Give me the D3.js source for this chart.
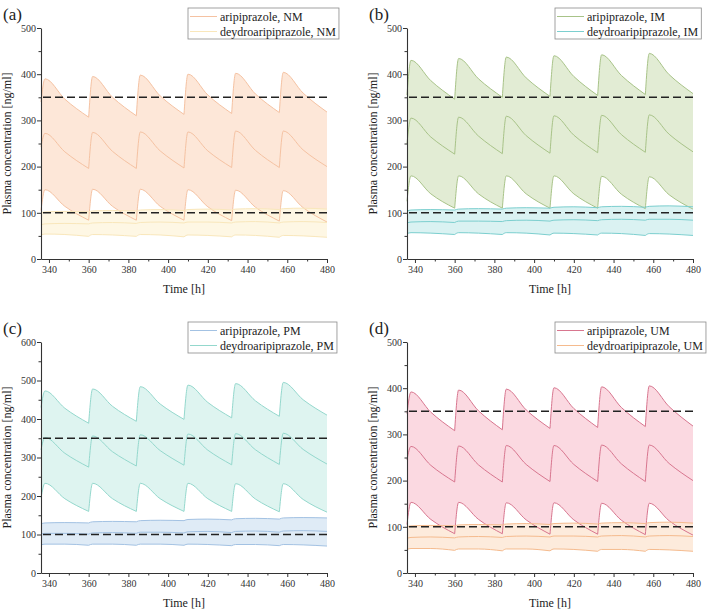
<!DOCTYPE html>
<html>
<head>
<meta charset="utf-8">
<script src="https://cdn.jsdelivr.net/npm/d3@7"></script>
<style>
  body { margin: 0; background: #fff; }
  svg, svg text { font-family: "Liberation Serif", "Times New Roman", "DejaVu Serif", serif !important; }
</style>
</head>
<body>
<svg id="chart" width="710" height="614"></svg>
<script>
// time grid: dose time, peak (+2 h), mid (+12 h) for each 24 h cycle, then the end
var sampleTimes = [336, 338, 348, 360, 362, 372, 384, 386, 396, 408, 410, 420, 432, 434, 444, 456, 458, 468, 480];
var xTicks = [340, 360, 380, 400, 420, 440, 460, 480];
var xMinor = [350, 370, 390, 410, 430, 450, 470];
var targetRange = [100, 350];

// (a) NM
var nmAriUpper  = [340, 390, 346, 307, 395, 350, 310, 398, 353, 313, 400, 355, 315, 402, 357, 317, 404, 359, 318];
var nmAriMedian = [243, 272, 232, 196, 274, 233, 196, 275, 234, 197, 275, 234, 198, 277, 235, 198, 277, 236, 200];
var nmAriLower  = [105, 150, 114, 84, 151, 114, 84, 151, 114, 84, 150, 113, 83, 149, 112, 82, 148, 111, 80];
var nmDehUpper  = [100, 102, 103, 102, 104, 105, 104, 106, 107, 105, 107, 108, 106, 108, 109, 107, 109, 110, 108];
var nmDehMedian = [74, 76, 77, 76, 78, 79, 77, 79, 80, 78, 80, 80, 78, 80, 81, 78, 80, 81, 79];
var nmDehLower  = [52, 54, 53, 49, 53, 52, 49, 53, 52, 48, 52, 51, 48, 52, 51, 47, 51, 50, 47];

// (b) IM
var imAriUpper  = [355, 430, 386, 346, 434, 390, 350, 437, 392, 352, 440, 395, 354, 442, 397, 356, 445, 399, 358];
var imAriMedian = [250, 305, 264, 227, 307, 266, 228, 309, 267, 229, 310, 268, 230, 311, 269, 231, 312, 270, 232];
var imAriLower  = [125, 180, 141, 110, 180, 141, 110, 180, 141, 110, 180, 141, 110, 179, 140, 109, 178, 139, 108];
var imDehUpper  = [104, 106, 107, 106, 108, 109, 108, 110, 111, 110, 112, 113, 111, 113, 114, 112, 114, 115, 113];
var imDehMedian = [78, 80, 81, 79, 82, 82, 81, 83, 84, 82, 84, 85, 83, 85, 86, 84, 86, 86, 84];
var imDehLower  = [55, 57, 56, 53, 57, 56, 53, 57, 56, 52, 56, 55, 52, 56, 55, 51, 55, 54, 51];

// (c) PM
var pmAriUpper  = [128, 130, 131, 130, 133, 134, 133, 136, 137, 136, 139, 140, 138, 141, 142, 140, 143, 144, 143];
var pmAriMedian = [101, 103, 103, 101, 104, 105, 103, 106, 106, 104, 107, 108, 105, 108, 109, 106, 109, 110, 108];
var pmAriLower  = [73, 75, 75, 72, 75, 75, 72, 75, 75, 72, 75, 74, 71, 74, 74, 71, 74, 73, 70];
var pmDehUpper  = [430, 473, 428, 389, 478, 433, 394, 484, 439, 399, 488, 443, 403, 492, 447, 407, 495, 450, 410];
var pmDehMedian = [320, 352, 311, 275, 356, 315, 278, 359, 318, 280, 361, 319, 281, 362, 320, 282, 363, 321, 283];
var pmDehLower  = [195, 233, 193, 160, 233, 193, 160, 233, 193, 160, 233, 193, 160, 232, 192, 159, 232, 191, 158];

// (d) UM
var umAriUpper  = [345, 392, 348, 308, 396, 351, 310, 398, 353, 313, 401, 356, 315, 403, 358, 317, 405, 360, 318];
var umAriMedian = [245, 274, 233, 197, 275, 234, 197, 276, 235, 198, 276, 235, 198, 277, 236, 198, 277, 237, 200];
var umAriLower  = [105, 153, 116, 85, 153, 116, 85, 152, 115, 84, 152, 115, 84, 151, 114, 83, 151, 113, 82];
var umDehUpper  = [100, 102, 103, 102, 104, 105, 104, 106, 107, 105, 107, 108, 106, 108, 109, 107, 109, 110, 108];
var umDehMedian = [75, 77, 78, 76, 78, 79, 77, 79, 80, 78, 80, 80, 78, 80, 81, 78, 80, 81, 79];
var umDehLower  = [51, 53, 53, 49, 52, 52, 48, 52, 52, 48, 52, 51, 47, 51, 51, 47, 51, 50, 47];

var panels = [
  { tag: "(a)", left: 41, right: 327, top: 28, bottom: 259, yMax: 500, lx: 188, ly: 8,
    series: [
      { name: "aripiprazole, NM", up: nmAriUpper, mid: nmAriMedian, lo: nmAriLower, line: "#f5c2a2", fill: "#fde3d1" },
      { name: "deydroaripiprazole, NM", up: nmDehUpper, mid: nmDehMedian, lo: nmDehLower, line: "#f9e7bb", fill: "#fef6df" }
    ] },
  { tag: "(b)", left: 407, right: 693, top: 28, bottom: 259, yMax: 500, lx: 555, ly: 8,
    series: [
      { name: "aripiprazole, IM", up: imAriUpper, mid: imAriMedian, lo: imAriLower, line: "#a8c388", fill: "#dde9cd" },
      { name: "deydroaripiprazole, IM", up: imDehUpper, mid: imDehMedian, lo: imDehLower, line: "#7ccfcf", fill: "#d3f0f0" }
    ] },
  { tag: "(c)", left: 41, right: 327, top: 342, bottom: 573, yMax: 600, lx: 188, ly: 322,
    series: [
      { name: "aripiprazole, PM", up: pmAriUpper, mid: pmAriMedian, lo: pmAriLower, line: "#a3c2e3", fill: "#d9e7f5" },
      { name: "deydroaripiprazole, PM", up: pmDehUpper, mid: pmDehMedian, lo: pmDehLower, line: "#94d8cd", fill: "#d8f2ed" }
    ] },
  { tag: "(d)", left: 407, right: 693, top: 342, bottom: 573, yMax: 500, lx: 555, ly: 322,
    series: [
      { name: "aripiprazole, UM", up: umAriUpper, mid: umAriMedian, lo: umAriLower, line: "#d8768f", fill: "#fad2dc" },
      { name: "deydroaripiprazole, UM", up: umDehUpper, mid: umDehMedian, lo: umDehLower, line: "#f5bb8e", fill: "#fde8d6" }
    ] }
];

var svg = d3.select("#chart");

// build each 24 h cycle as its own smooth piece so the trough stays a sharp corner
function piecewise(gen, pts) {
  var d = "";
  for (var i = 0; i + 3 < pts.length; i += 3) {
    d += gen(pts.slice(i, i + 4));
  }
  return d;
}

panels.forEach(function(p) {
  var x = d3.scaleLinear().domain([336, 480]).range([p.left, p.right]);
  var y = d3.scaleLinear().domain([0, p.yMax]).range([p.bottom, p.top]);
  var g = svg.append("g");

  var area = d3.area()
    .x(d => x(d.t)).y0(d => y(d.lo)).y1(d => y(d.hi))
    .curve(d3.curveMonotoneX);
  var line = d3.line()
    .x(d => x(d.t)).y(d => y(d.v))
    .curve(d3.curveMonotoneX);

  // bands
  p.series.forEach(function(s) {
    var pts = sampleTimes.map((t, i) => ({ t: t, lo: s.lo[i], hi: s.up[i] }));
    g.append("path")
      .attr("d", piecewise(area, pts))
      .attr("fill", s.fill)
      .attr("fill-opacity", 0.85);
  });

  // percentile / median lines
  p.series.forEach(function(s) {
    [s.up, s.mid, s.lo].forEach(function(vals) {
      var pts = sampleTimes.map((t, i) => ({ t: t, v: vals[i] }));
      g.append("path")
        .attr("d", piecewise(line, pts))
        .attr("fill", "none")
        .attr("stroke", s.line)
        .attr("stroke-width", 1);
    });
  });

  // therapeutic range
  g.selectAll(".target")
    .data(targetRange)
    .enter()
    .append("line")
    .attr("x1", x(336) + 2)
    .attr("x2", x(480))
    .attr("y1", d => y(d))
    .attr("y2", d => y(d))
    .attr("stroke", "#222")
    .attr("stroke-width", 1.6)
    .attr("stroke-dasharray", "8,4");

  // axes
  var yTicks = d3.range(0, p.yMax + 1, 100);
  var yMinor = d3.range(50, p.yMax, 100);

  g.append("g")
    .attr("transform", `translate(0, ${p.bottom})`)
    .call(d3.axisBottom(x).tickValues(xTicks).tickSize(4).tickSizeOuter(0).tickPadding(3));
  g.append("g")
    .attr("transform", `translate(0, ${p.bottom})`)
    .call(d3.axisBottom(x).tickValues(xMinor).tickSize(2.5).tickFormat(""))
    .select(".domain").remove();

  g.append("g")
    .attr("transform", `translate(${p.left}, 0)`)
    .call(d3.axisLeft(y).tickValues(yTicks).tickSize(4).tickSizeOuter(0).tickPadding(1));
  g.append("g")
    .attr("transform", `translate(${p.left}, 0)`)
    .call(d3.axisLeft(y).tickValues(yMinor).tickSize(2.5).tickFormat(""))
    .select(".domain").remove();

  g.selectAll("g").attr("font-family", null);
  g.selectAll(".tick line").attr("stroke", "#333");
  g.selectAll(".domain").attr("stroke", "#333").attr("stroke-width", 1.1);
  g.selectAll(".tick text")
    .attr("font-size", 10)
    .attr("fill", "#333");

  // axis titles
  g.append("text")
    .attr("x", (p.left + p.right) / 2)
    .attr("y", p.bottom + 34)
    .attr("text-anchor", "middle")
    .attr("font-size", 12)
    .attr("fill", "#222")
    .text("Time [h]");

  g.append("text")
    .attr("transform", `translate(${p.left - 30}, ${(p.top + p.bottom) / 2}) rotate(-90)`)
    .attr("text-anchor", "middle")
    .attr("font-size", 12)
    .attr("fill", "#222")
    .text("Plasma concentration [ng/ml]");

  // panel tag
  g.append("text")
    .attr("x", p.left - 38)
    .attr("y", p.top - 8)
    .attr("font-size", 17)
    .attr("fill", "#222")
    .text(p.tag);

  // legend
  var leg = g.append("g").attr("transform", `translate(${p.lx}, ${p.ly})`);
  var box = leg.append("rect")
    .attr("x", 0).attr("y", 0)
    .attr("height", 31)
    .attr("fill", "#fff")
    .attr("stroke", "#8a8a8a")
    .attr("stroke-width", 0.8);
  var maxEnd = 0;
  p.series.forEach(function(s, i) {
    var cy = 8.5 + i * 15;
    leg.append("line")
      .attr("x1", 2).attr("x2", 29)
      .attr("y1", cy).attr("y2", cy)
      .attr("stroke", s.line)
      .attr("stroke-width", 1);
    var t = leg.append("text")
      .attr("x", 32)
      .attr("y", cy + 4)
      .attr("font-size", 12)
      .attr("fill", "#222")
      .text(s.name);
    maxEnd = Math.max(maxEnd, 32 + t.node().getComputedTextLength());
  });
  box.attr("width", maxEnd + 3);
});
</script>
</body>
</html>
